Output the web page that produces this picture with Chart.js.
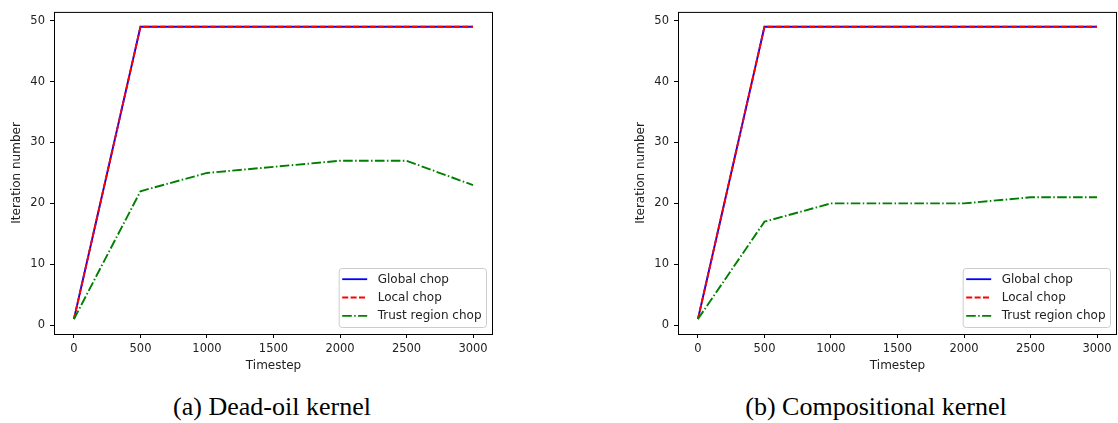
<!DOCTYPE html>
<html>
<head>
<meta charset="utf-8">
<script src="https://cdn.jsdelivr.net/npm/chart.js@4/dist/chart.umd.min.js"></script>
<style>
  html, body { margin: 0; padding: 0; background: #fff; width: 1118px; height: 423px; overflow: hidden; }
  .wrap { position: absolute; top: 0; }
  canvas { display: block; }
  .cap { position: absolute; font-family: "Liberation Serif", "Times New Roman", serif; font-size: 26px; line-height: 26px; color: #000; white-space: nowrap; transform: translateX(-50%); top: 394px; }
</style>
</head>
<body>
<div class="wrap" style="left:0px"><canvas id="c1" width="495" height="380"></canvas></div>
<div class="wrap" style="left:624px"><canvas id="c2" width="495" height="380"></canvas></div>
<div class="cap" style="left:272px">(a) Dead-oil kernel</div>
<div class="cap" style="left:876px">(b) Compositional kernel</div>
<script>
// ---- data ----
const timesteps = [0, 500, 1000, 1500, 2000, 2500, 3000];
const seriesNames = ["Global chop", "Local chop", "Trust region chop"];
const deadOilGlobal = [1, 49, 49, 49, 49, 49, 49];
const deadOilLocal  = [1, 49, 49, 49, 49, 49, 49];
const deadOilTrust  = [1, 22, 25, 26, 27, 27, 23];
const compGlobal = [1, 49, 49, 49, 49, 49, 49];
const compLocal  = [1, 49, 49, 49, 49, 49, 49];
const compTrust  = [1, 17, 20, 20, 20, 21, 21];
const xTickValues = [0, 500, 1000, 1500, 2000, 2500, 3000];
const yTickValues = [0, 10, 20, 30, 40, 50];
const xTitle = "Timestep";
const yTitle = "Iteration number";

// ---- styles ----
const FONT = "'DejaVu Sans', sans-serif";
const TXT = "#222";
const TICK_SIZE = 11.5;
const LABEL_SIZE = 12;
const styles = [
  { color: "#0000ff", dash: [], order: 3 },
  { color: "#ff0000", dash: [6, 2.4], order: 2 },
  { color: "#008000", dash: [9.6, 2.4, 1.5, 2.4], order: 1 }
];

const framePlugin = {
  id: "frame",
  afterDatasetsDraw(chart) {
    const { ctx, chartArea: a } = chart;
    ctx.save();
    ctx.strokeStyle = "#000";
    ctx.lineWidth = 1;
    ctx.strokeRect(a.left + 0.5, a.top + 0.5, a.right - a.left - 1, a.bottom - a.top);
    ctx.restore();
  }
};

const boxLegendPlugin = {
  id: "boxLegend",
  afterDraw(chart) {
    const { ctx, chartArea: a } = chart;
    const ds = chart.data.datasets;
    ctx.save();
    ctx.font = LABEL_SIZE + "px " + FONT;
    let maxW = 0;
    ds.forEach(d => { maxW = Math.max(maxW, ctx.measureText(d.label).width); });
    const w = 38.5 + maxW + 5;
    const h = 59;
    const x = a.right - 6.5 - w;
    const y = a.bottom - 6.5 - h;
    const r = 3;
    ctx.beginPath();
    ctx.moveTo(x + r, y);
    ctx.lineTo(x + w - r, y);
    ctx.quadraticCurveTo(x + w, y, x + w, y + r);
    ctx.lineTo(x + w, y + h - r);
    ctx.quadraticCurveTo(x + w, y + h, x + w - r, y + h);
    ctx.lineTo(x + r, y + h);
    ctx.quadraticCurveTo(x, y + h, x, y + h - r);
    ctx.lineTo(x, y + r);
    ctx.quadraticCurveTo(x, y, x + r, y);
    ctx.closePath();
    ctx.fillStyle = "rgba(255,255,255,0.8)";
    ctx.fill();
    ctx.strokeStyle = "#cccccc";
    ctx.lineWidth = 1;
    ctx.stroke();
    ds.forEach((d, i) => {
      const yy = y + 10.7 + i * 18.3;
      ctx.beginPath();
      ctx.setLineDash(d.borderDash || []);
      ctx.strokeStyle = d.borderColor;
      ctx.lineWidth = 1.8;
      ctx.moveTo(x + 3, yy);
      ctx.lineTo(x + 28, yy);
      ctx.stroke();
      ctx.setLineDash([]);
      ctx.fillStyle = TXT;
      ctx.textBaseline = "middle";
      ctx.textAlign = "left";
      ctx.fillText(d.label, x + 38.5, yy + 0.5);
    });
    ctx.restore();
  }
};

function makeChart(id, seriesList) {
  const datasets = seriesList.map((vals, i) => ({
    label: seriesNames[i],
    data: timesteps.map((t, j) => ({ x: t, y: vals[j] })),
    borderColor: styles[i].color,
    backgroundColor: styles[i].color,
    borderDash: styles[i].dash,
    borderWidth: 1.9,
    pointRadius: 0,
    tension: 0,
    fill: false,
    order: styles[i].order
  }));
  return new Chart(document.getElementById(id), {
    type: "line",
    data: { datasets },
    options: {
      responsive: false,
      devicePixelRatio: 1,
      animation: false,
      events: [],
      layout: { padding: { left: 0, top: 9, right: 2, bottom: 0 } },
      plugins: { legend: { display: false }, tooltip: { enabled: false } },
      scales: {
        x: {
          type: "linear",
          min: -150, max: 3150,
          afterBuildTicks: s => { s.ticks = xTickValues.map(v => ({ value: v })); },
          afterFit: s => { s.height = 46; },
          grid: { display: true, drawOnChartArea: false, drawTicks: true, tickLength: 4, color: "#000", lineWidth: 1 },
          border: { display: false },
          ticks: { font: { family: FONT, size: TICK_SIZE }, color: TXT, padding: 4, maxRotation: 0, autoSkip: false, callback: v => String(v) },
          title: { display: true, text: xTitle, font: { family: FONT, size: LABEL_SIZE }, color: TXT, padding: { top: 0, bottom: 7 } }
        },
        y: {
          type: "linear",
          min: -1.45, max: 51.45,
          afterBuildTicks: s => { s.ticks = yTickValues.map(v => ({ value: v })); },
          afterFit: s => { s.width = 54; },
          grid: { display: true, drawOnChartArea: false, drawTicks: true, tickLength: 4, color: "#000", lineWidth: 1 },
          border: { display: false },
          ticks: { font: { family: FONT, size: TICK_SIZE }, color: TXT, padding: 5, autoSkip: false, callback: v => String(v) },
          title: { display: true, text: yTitle, font: { family: FONT, size: LABEL_SIZE }, color: TXT, padding: { top: 10, bottom: 0 } }
        }
      }
    },
    plugins: [framePlugin, boxLegendPlugin]
  });
}

makeChart("c1", [deadOilGlobal, deadOilLocal, deadOilTrust]);
makeChart("c2", [compGlobal, compLocal, compTrust]);
</script>
</body>
</html>
